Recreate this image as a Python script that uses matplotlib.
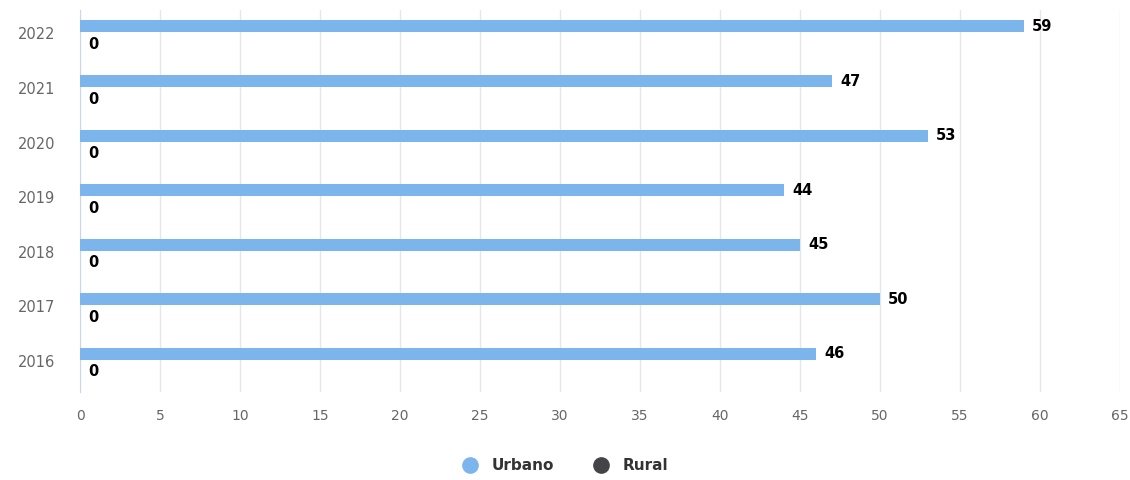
import matplotlib.pyplot as plt
import matplotlib.transforms as mtransforms
import numpy as np
from matplotlib.lines import Line2D

years = ['2016', '2017', '2018', '2019', '2020', '2021', '2022']
urbano = [46, 50, 45, 44, 53, 47, 59]
rural = [0, 0, 0, 0, 0, 0, 0]

plt.rcParams['font.family'] = ['DejaVu Sans']

fig = plt.figure(figsize=(11.3, 4.8), dpi=100)
ax = fig.add_axes([0.0708, 0.183, 0.9203, 0.796])

y = np.arange(len(years))
h = 0.22
ax.barh(y + 0.2, urbano, height=h, color='#7cb5ec', zorder=3)
ax.barh(y - 0.2, rural, height=h, color='#434348', zorder=3)

for yi, v in zip(y, urbano):
    ax.annotate(str(v), (v, yi + 0.2), xytext=(6, 0), textcoords='offset points',
                ha='left', va='center', fontsize=10.5, fontweight='bold', color='#000000')
for yi, v in zip(y, rural):
    ax.annotate(str(v), (v, yi - 0.13), xytext=(6, 0), textcoords='offset points',
                ha='left', va='center', fontsize=10.5, fontweight='bold', color='#000000')

ax.set_xlim(0, 65)
ax.set_ylim(-0.5, len(years) - 0.5)
ax.set_xticks(range(0, 66, 5))
ax.set_yticks(y)
ax.set_yticklabels(years)
ax.tick_params(axis='both', length=0, labelsize=10, labelcolor='#666666')
ax.tick_params(axis='y', labelsize=10.5, pad=18)
ax.tick_params(axis='x', pad=12)
shift = mtransforms.ScaledTranslation(0, 4 / 100, fig.dpi_scale_trans)
for lab in ax.get_yticklabels():
    lab.set_transform(lab.get_transform() + shift)
ax.grid(axis='x', color='#e6e6e6', linewidth=1, zorder=0)
for s in ['top', 'right', 'bottom']:
    ax.spines[s].set_visible(False)
ax.spines['left'].set_color('#ccd6eb')

handles = [Line2D([], [], marker='o', linestyle='', markersize=11, color='#7cb5ec'),
           Line2D([], [], marker='o', linestyle='', markersize=11, color='#434348')]
fig.legend(handles, ['Urbano', 'Rural'], loc='center', bbox_to_anchor=(0.497, 0.03), ncol=2,
           frameon=False, prop={'size': 11, 'weight': 'bold'}, labelcolor='#333333',
           handletextpad=0.4, columnspacing=2.1)

fig.savefig('out.png', dpi=100)
